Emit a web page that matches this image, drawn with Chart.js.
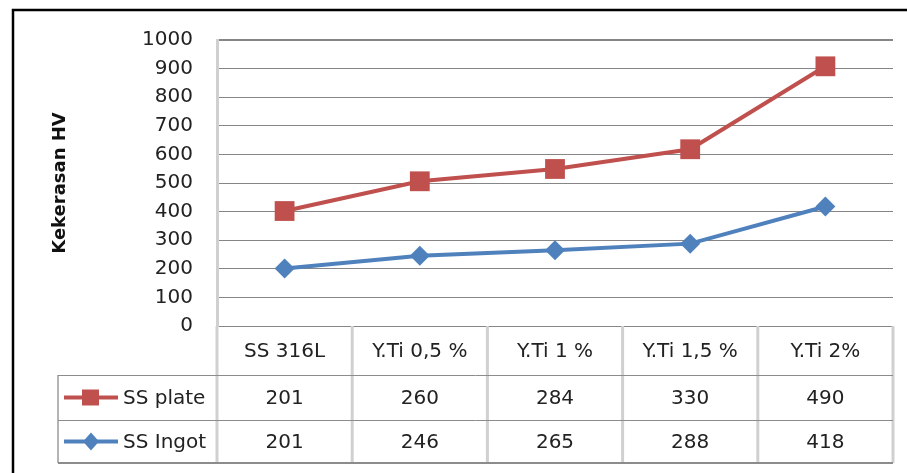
<!DOCTYPE html>
<html>
<head>
<meta charset="utf-8">
<script src="https://cdn.jsdelivr.net/npm/chart.js@4"></script>
<style>
  html, body { margin: 0; padding: 0; background: #fff; }
</style>
</head>
<body>
<canvas id="chart" width="907" height="473"></canvas>
<script>
const categories = ['SS 316L', 'Y.Ti 0,5 %', 'Y.Ti 1 %', 'Y.Ti 1,5 %', 'Y.Ti 2%'];
const ssPlate = [201, 260, 284, 330, 490];
const ssIngot = [201, 246, 265, 288, 418];
const seriesNames = ['SS plate', 'SS Ingot'];
const yTitle = 'Kekerasan HV';

const RED = '#C0504D';
const BLUE = '#4F81BD';
const FONT = '"DejaVu Sans", sans-serif';

// frame + data table under the plot
const tablePlugin = {
    id: 'dataTable',
    beforeDraw(chart) {
        const ctx = chart.ctx;
        ctx.save();
        ctx.strokeStyle = '#000';
        ctx.lineWidth = 2.5;
        ctx.beginPath();
        ctx.moveTo(13, 473);
        ctx.lineTo(13, 10);
        ctx.lineTo(907, 10);
        ctx.stroke();
        ctx.restore();
    },
    afterDraw(chart) {
        const ctx = chart.ctx;
        const x = chart.scales.x;
        const area = chart.chartArea;
        const top = area.bottom;
        const rowA = top + 49;
        const rowB = rowA + 45;
        const bottom = rowB + 43;
        const legendLeft = 58;

        const centers = categories.map((_, i) => x.getPixelForValue(i));
        const bounds = [area.left];
        for (let i = 0; i < centers.length - 1; i++) bounds.push((centers[i] + centers[i + 1]) / 2);
        bounds.push(area.right);

        ctx.save();
        // light vertical separators
        ctx.strokeStyle = '#d0d0d0';
        ctx.lineWidth = 3;
        bounds.forEach(b => {
            ctx.beginPath();
            ctx.moveTo(b, top);
            ctx.lineTo(b, bottom);
            ctx.stroke();
        });
        ctx.lineWidth = 2;
        ctx.strokeStyle = '#b4b4b4';
        ctx.beginPath();
        ctx.moveTo(legendLeft, rowA);
        ctx.lineTo(legendLeft, bottom);
        ctx.stroke();

        // horizontal rules
        ctx.strokeStyle = '#8c8c8c';
        ctx.lineWidth = 1;
        [rowA, rowB].forEach(y => {
            ctx.beginPath();
            ctx.moveTo(legendLeft, y + 0.5);
            ctx.lineTo(area.right, y + 0.5);
            ctx.stroke();
        });
        ctx.lineWidth = 2;
        ctx.beginPath();
        ctx.moveTo(legendLeft, bottom);
        ctx.lineTo(area.right, bottom);
        ctx.stroke();

        // texts
        ctx.fillStyle = '#222';
        ctx.font = '20px ' + FONT;
        ctx.textAlign = 'center';
        ctx.textBaseline = 'middle';
        categories.forEach((c, i) => ctx.fillText(c, centers[i], (top + rowA) / 2 + 1));
        ssPlate.forEach((v, i) => ctx.fillText(String(v), centers[i], (rowA + rowB) / 2 + 1));
        ssIngot.forEach((v, i) => ctx.fillText(String(v), centers[i], (rowB + bottom) / 2 + 1));

        // legend keys
        const rows = [
            { y: (rowA + rowB) / 2, color: RED, shape: 'rect', name: seriesNames[0] },
            { y: (rowB + bottom) / 2, color: BLUE, shape: 'diamond', name: seriesNames[1] }
        ];
        rows.forEach(r => {
            ctx.strokeStyle = r.color;
            ctx.fillStyle = r.color;
            ctx.lineWidth = 4;
            ctx.beginPath();
            ctx.moveTo(64, r.y);
            ctx.lineTo(118, r.y);
            ctx.stroke();
            ctx.beginPath();
            if (r.shape === 'rect') {
                ctx.rect(82, r.y - 8, 17, 16);
            } else {
                ctx.moveTo(91, r.y - 9);
                ctx.lineTo(99, r.y);
                ctx.lineTo(91, r.y + 9);
                ctx.lineTo(83, r.y);
                ctx.closePath();
            }
            ctx.fill();
            ctx.fillStyle = '#222';
            ctx.textAlign = 'left';
            ctx.fillText(r.name, 123, r.y + 1);
        });
        ctx.restore();
    }
};

new Chart(document.getElementById('chart'), {
    type: 'line',
    data: {
        labels: categories,
        datasets: [
            {
                label: seriesNames[1],
                data: ssIngot,
                borderColor: BLUE,
                backgroundColor: BLUE,
                borderWidth: 4,
                pointStyle: 'rectRot',
                pointRadius: 10,
                pointBorderWidth: 0,
                tension: 0
            },
            {
                label: seriesNames[0],
                data: ssPlate,
                borderColor: RED,
                backgroundColor: RED,
                borderWidth: 4,
                pointStyle: 'rect',
                pointRadius: 14,
                pointBorderWidth: 0,
                tension: 0
            }
        ]
    },
    options: {
        responsive: false,
        animation: false,
        devicePixelRatio: 1,
        layout: { padding: { left: 0, right: 14, top: 40, bottom: 147 } },
        plugins: {
            legend: { display: false },
            tooltip: { enabled: false }
        },
        scales: {
            x: {
                display: false,
                offset: true
            },
            y: {
                stacked: true,
                min: 0,
                max: 1000,
                afterFit(scale) { scale.width = 217; },
                border: { color: '#d0d0d0', width: 3 },
                grid: {
                    drawTicks: false,
                    color: '#868686',
                    lineWidth: c => (c.tick && c.tick.value === 1000 ? 2 : 1)
                },
                ticks: {
                    stepSize: 100,
                    padding: 24,
                    color: '#222',
                    font: { family: FONT, size: 20 },
                    callback: v => String(v)
                },
                title: {
                    display: true,
                    text: yTitle,
                    color: '#111',
                    font: { family: FONT, size: 18, weight: 'bold' },
                    padding: { top: 50, bottom: 0 }
                }
            }
        }
    },
    plugins: [tablePlugin]
});
</script>
</body>
</html>
